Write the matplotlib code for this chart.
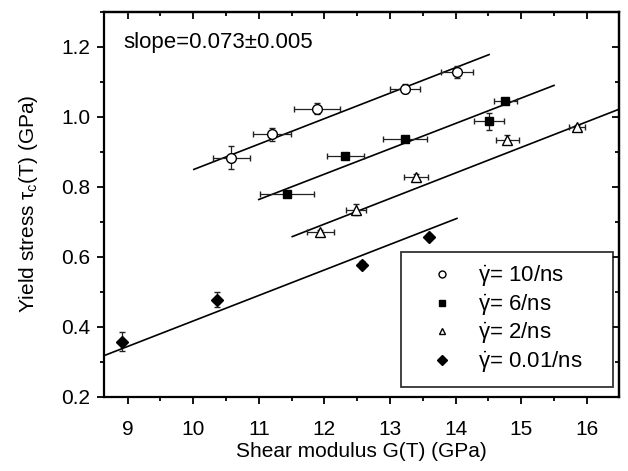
import matplotlib
matplotlib.use('Agg')
import matplotlib.pyplot as plt
from matplotlib.ticker import MultipleLocator, FormatStrFormatter
from matplotlib.lines import Line2D

plt.rcParams['font.family'] = ['Liberation Sans', 'DejaVu Sans']
plt.rcParams['mathtext.fontset'] = 'custom'
plt.rcParams['mathtext.rm'] = 'Liberation Sans'
plt.rcParams['mathtext.it'] = 'Liberation Sans'

# strain rate 10/ns
g10 = [10.58, 11.20, 11.88, 13.23, 14.02]
t10 = [0.883, 0.949, 1.023, 1.080, 1.126]
gx10 = [0.28, 0.29, 0.35, 0.23, 0.24]
ty10 = [0.033, 0.018, 0.017, 0.014, 0.017]

# 6/ns
g6 = [11.43, 12.32, 13.23, 14.51, 14.76]
t6 = [0.780, 0.886, 0.937, 0.986, 1.043]
gx6 = [0.41, 0.28, 0.34, 0.23, 0.18]
ty6 = [0.006, 0.008, 0.008, 0.023, 0.006]

# 2/ns
g2 = [11.94, 12.48, 13.40, 14.79, 15.85]
t2 = [0.669, 0.734, 0.826, 0.934, 0.969]
gx2 = [0.21, 0.15, 0.18, 0.17, 0.12]
ty2 = [0.008, 0.015, 0.010, 0.012, 0.008]

# 0.01/ns
g001 = [8.92, 10.36, 12.58, 13.59]
t001 = [0.357, 0.477, 0.577, 0.657]
gx001 = [0.0, 0.0, 0.0, 0.0]
ty001 = [0.028, 0.022, 0.010, 0.008]

# linear fits (end points)
fit10_x, fit10_y = [10.01, 14.51], [0.849, 1.177]
fit6_x, fit6_y = [11.00, 15.50], [0.763, 1.089]
fit2_x, fit2_y = [11.51, 16.52], [0.657, 1.023]
fit001_x, fit001_y = [8.60, 14.02], [0.314, 0.709]

labels = [r'$\dot{\gamma}$= 10/ns', r'$\dot{\gamma}$= 6/ns',
          r'$\dot{\gamma}$= 2/ns', r'$\dot{\gamma}$= 0.01/ns']

fig = plt.figure(figsize=(6.28, 4.71), dpi=100)
ax = fig.add_axes([0.1656, 0.158, 0.82, 0.8175])

for fx, fy in [(fit10_x, fit10_y), (fit6_x, fit6_y), (fit2_x, fit2_y), (fit001_x, fit001_y)]:
    ax.plot(fx, fy, color='k', lw=1.2)

ebkw = dict(ls='none', ecolor='#222222', elinewidth=0.9, capsize=2.5, capthick=0.9,
            markeredgecolor='k', markeredgewidth=1.0)
ax.errorbar(g10, t10, xerr=gx10, yerr=ty10, fmt='o', ms=7, mfc='white', **ebkw)
ax.errorbar(g6, t6, xerr=gx6, yerr=ty6, fmt='s', ms=6, mfc='k', **ebkw)
ax.errorbar(g2, t2, xerr=gx2, yerr=ty2, fmt='^', ms=7, mfc='white', **ebkw)
ax.errorbar(g001, t001, xerr=gx001, yerr=ty001, fmt='D', ms=6, mfc='k', **ebkw)

ax.set_xlim(8.64, 16.49)
ax.set_ylim(0.2, 1.3)
ax.xaxis.set_major_locator(MultipleLocator(1))
ax.xaxis.set_minor_locator(MultipleLocator(0.5))
ax.yaxis.set_major_locator(MultipleLocator(0.2))
ax.yaxis.set_minor_locator(MultipleLocator(0.1))
ax.yaxis.set_major_formatter(FormatStrFormatter('%.1f'))
ax.tick_params(which='both', direction='out', labelsize=15, width=1.3)
ax.tick_params(which='major', length=5)
ax.tick_params(which='minor', length=3)
ax.tick_params(axis='x', which='major', pad=12)
ax.tick_params(axis='y', which='major', pad=5)

secx = ax.secondary_xaxis('top')
secx.xaxis.set_major_locator(MultipleLocator(1))
secx.xaxis.set_minor_locator(MultipleLocator(0.5))
secx.tick_params(which='both', direction='in', labeltop=False, width=1.3)
secx.tick_params(which='major', length=5)
secx.tick_params(which='minor', length=3)
secy = ax.secondary_yaxis('right')
secy.yaxis.set_major_locator(MultipleLocator(0.2))
secy.yaxis.set_minor_locator(MultipleLocator(0.1))
secy.tick_params(which='both', direction='in', labelright=False, width=1.3)
secy.tick_params(which='major', length=5)
secy.tick_params(which='minor', length=3)
for s in list(ax.spines.values()) + [secx.spines['top'], secy.spines['right']]:
    s.set_linewidth(1.6)

ax.set_xlabel('Shear modulus G(T) (GPa)', fontsize=15, labelpad=2)
ax.set_ylabel(r'Yield stress $\tau_{\rm c}$(T) (GPa)', fontsize=15, labelpad=15)

ax.text(0.037, 0.92, 'slope=0.073\u00b10.005', transform=ax.transAxes, fontsize=16,
        va='center', ha='left')

handles = [
    Line2D([], [], ls='none', marker='o', ms=5, mfc='white', mec='k'),
    Line2D([], [], ls='none', marker='s', ms=5, mfc='k', mec='k'),
    Line2D([], [], ls='none', marker='^', ms=5, mfc='white', mec='k'),
    Line2D([], [], ls='none', marker='D', ms=5, mfc='k', mec='k'),
]
leg = ax.legend(handles, labels, loc='lower left', bbox_to_anchor=(0.577, 0.025, 0.411, 0.356),
                mode='expand', borderaxespad=0, fontsize=16, frameon=True, fancybox=False,
                edgecolor='k', borderpad=0.55, handlelength=2.6, handletextpad=0.3,
                labelspacing=0.15)
leg.get_frame().set_linewidth(1.3)

fig.savefig('out.png', dpi=100)
